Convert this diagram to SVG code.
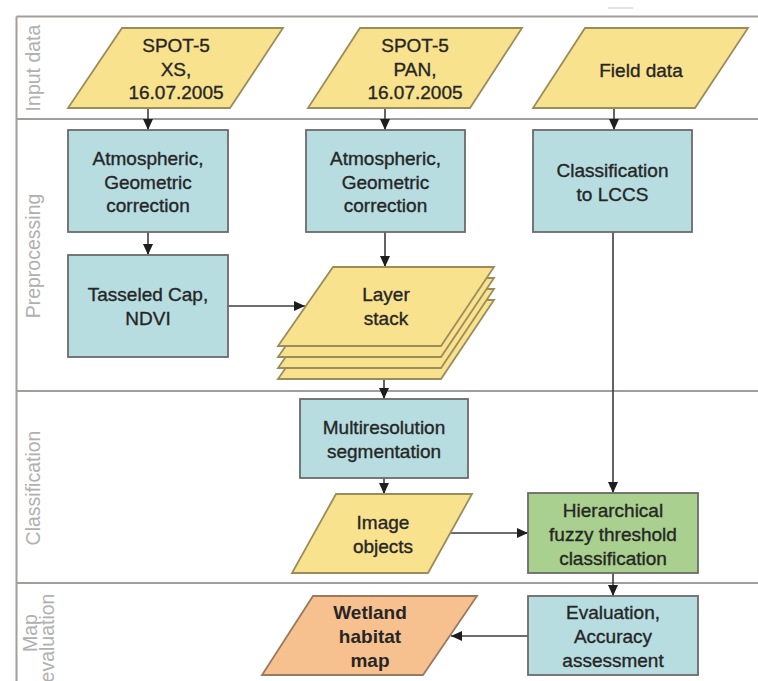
<svg xmlns="http://www.w3.org/2000/svg" width="758" height="681" viewBox="0 0 758 681">
<defs>
<marker id="ah" markerUnits="userSpaceOnUse" markerWidth="11" markerHeight="10" refX="11" refY="5" orient="auto">
<path d="M0,0 L11,5 L0,10 z" fill="#1e1e1e"/>
</marker>
</defs>
<style>
.lane{stroke:#a39e9b;stroke-width:2;fill:none}
.lbl{font-family:"Liberation Sans",Arial,sans-serif;font-size:19.5px;fill:#b0b0b0;text-anchor:middle}
.t{font-family:"Liberation Sans",Arial,sans-serif;font-size:19px;fill:#262626;text-anchor:middle;stroke:#262626;stroke-width:0.35}
.tb{font-family:"Liberation Sans",Arial,sans-serif;font-size:19px;font-weight:bold;fill:#262626;text-anchor:middle}
.yel{fill:#f9e28e;stroke:#9b8c5c;stroke-width:1.8}
.teal{fill:#b7dde1;stroke:#6b6b6b;stroke-width:1.8}
.grn{fill:#a9d08e;stroke:#6b6b6b;stroke-width:1.8}
.org{fill:#f7c18f;stroke:#9a7a5c;stroke-width:1.8}
.c{stroke:#3c3c3c;stroke-width:1.6;fill:none;marker-end:url(#ah)}
</style>
<rect width="758" height="681" fill="#ffffff"/>
<g id="lanes">
<line x1="608" y1="8" x2="633" y2="8" stroke="#d0d0d0" stroke-width="1.2"/>
<line class="lane" x1="16.5" y1="16.5" x2="758" y2="16.5"/>
<line class="lane" x1="16.5" y1="16.5" x2="16.5" y2="681"/>
<line class="lane" x1="16.5" y1="119" x2="758" y2="119"/>
<line class="lane" x1="16.5" y1="391" x2="758" y2="391"/>
<line class="lane" x1="16.5" y1="583" x2="758" y2="583"/>
<text class="lbl" transform="translate(40,68) rotate(-90)">Input data</text>
<text class="lbl" transform="translate(40,256) rotate(-90)">Preprocessing</text>
<text class="lbl" transform="translate(40,488) rotate(-90)">Classification</text>
<text class="lbl" transform="translate(37,633) rotate(-90)">Map</text>
<text class="lbl" transform="translate(54,638) rotate(-90)">evaluation</text>
</g>
<g id="connectors">
<line class="c" x1="148" y1="108" x2="148" y2="130"/>
<line class="c" x1="385" y1="108" x2="385" y2="130"/>
<line class="c" x1="614" y1="108" x2="614" y2="130"/>
<line class="c" x1="148" y1="232" x2="148" y2="255"/>
<line class="c" x1="385" y1="232" x2="385" y2="267"/>
<line class="c" x1="228" y1="306" x2="305" y2="306"/>
<line class="c" x1="384" y1="380" x2="384" y2="399"/>
<line class="c" x1="613" y1="232" x2="613" y2="493"/>
<line class="c" x1="384" y1="478" x2="384" y2="494"/>
<line class="c" x1="450" y1="533" x2="528" y2="533"/>
<line class="c" x1="613" y1="573" x2="613" y2="596"/>
<line class="c" x1="528" y1="636" x2="451" y2="636"/>
</g>
<g id="spot-xs">
<polygon class="yel" points="122,28 283,28 230,108 68,108"/>
<text class="t" x="176" y="52">SPOT-5</text>
<text class="t" x="176" y="76">XS,</text>
<text class="t" x="176" y="99">16.07.2005</text>
</g>
<g id="spot-pan">
<polygon class="yel" points="360,28 522,28 470,108 308,108"/>
<text class="t" x="415" y="52">SPOT-5</text>
<text class="t" x="415" y="76">PAN,</text>
<text class="t" x="415" y="99">16.07.2005</text>
</g>
<g id="field-data">
<polygon class="yel" points="585,28 748,28 695,108 533,108"/>
<text class="t" x="641" y="77">Field data</text>
</g>
<g id="atmos-xs">
<rect class="teal" x="68" y="130" width="160" height="102"/>
<text class="t" x="148" y="165">Atmospheric,</text>
<text class="t" x="148" y="189">Geometric</text>
<text class="t" x="148" y="212">correction</text>
</g>
<g id="atmos-pan">
<rect class="teal" x="306" y="130" width="159" height="102"/>
<text class="t" x="385.5" y="165">Atmospheric,</text>
<text class="t" x="385.5" y="189">Geometric</text>
<text class="t" x="385.5" y="212">correction</text>
</g>
<g id="lccs">
<rect class="teal" x="533" y="130" width="159" height="102"/>
<text class="t" x="612.5" y="177">Classification</text>
<text class="t" x="612.5" y="201">to LCCS</text>
</g>
<g id="tasseled">
<rect class="teal" x="68" y="255" width="160" height="102"/>
<text class="t" x="148" y="301">Tasseled Cap,</text>
<text class="t" x="148" y="325">NDVI</text>
</g>
<g id="layer-stack">
<polygon class="yel" points="333,300 494,300 441,379 278,379"/>
<polygon class="yel" points="333,289 494,289 441,368 278,368"/>
<polygon class="yel" points="333,278 494,278 441,357 278,357"/>
<polygon class="yel" points="333,267 494,267 441,346 278,346"/>
<text class="t" x="386" y="301">Layer</text>
<text class="t" x="386" y="325">stack</text>
</g>
<g id="multires">
<rect class="teal" x="300" y="399" width="168" height="79"/>
<text class="t" x="384" y="434">Multiresolution</text>
<text class="t" x="384" y="458">segmentation</text>
</g>
<g id="image-objects">
<polygon class="yel" points="336,494 472,494 428,573 292,573"/>
<text class="t" x="383" y="529">Image</text>
<text class="t" x="383" y="553">objects</text>
</g>
<g id="hierarchical">
<rect class="grn" x="528" y="493" width="170" height="80"/>
<text class="t" x="613" y="517">Hierarchical</text>
<text class="t" x="613" y="541">fuzzy threshold</text>
<text class="t" x="613" y="565">classification</text>
</g>
<g id="evaluation">
<rect class="teal" x="528" y="596" width="170" height="79"/>
<text class="t" x="613" y="619">Evaluation,</text>
<text class="t" x="613" y="643">Accuracy</text>
<text class="t" x="613" y="667">assessment</text>
</g>
<g id="wetland">
<polygon class="org" points="313,596 477,596 423,675 262,675"/>
<text class="tb" x="370" y="619">Wetland</text>
<text class="tb" x="370" y="643">habitat</text>
<text class="tb" x="370" y="667">map</text>
</g>
</svg>
